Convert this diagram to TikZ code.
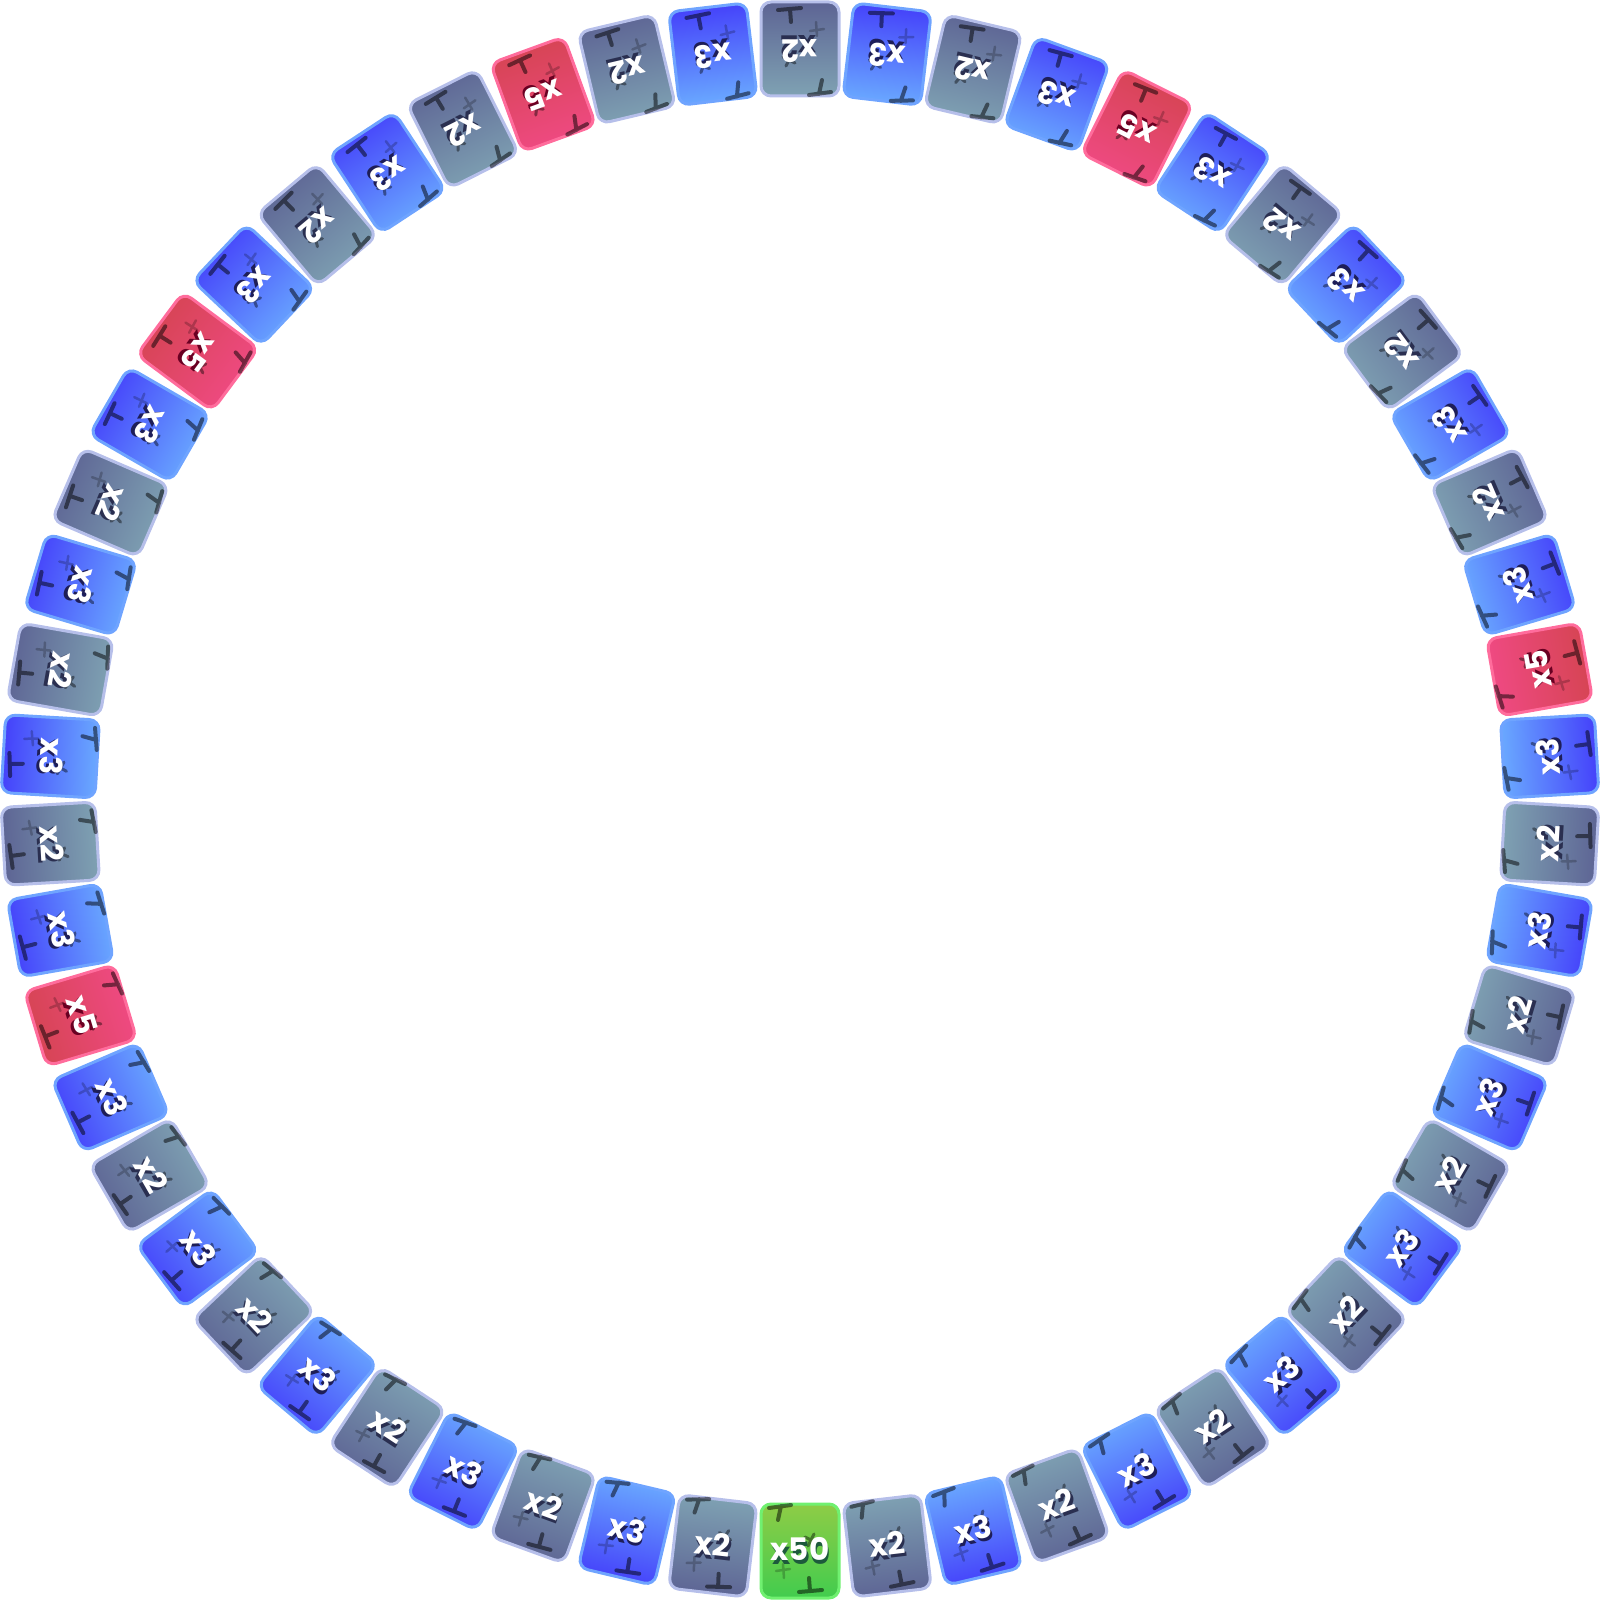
\documentclass[tikz,border=0pt]{standalone}
\usepackage{fontspec}
\newfontfamily\tilefont{Poppins}
\definecolor{gTwoIn}{HTML}{7FA2B3}
\definecolor{gTwoOut}{HTML}{5D6494}
\definecolor{bTwo}{HTML}{B6BFEA}
\definecolor{sTwo}{HTML}{2A2F50}
\definecolor{gThreeIn}{HTML}{6AAAFF}
\definecolor{gThreeOut}{HTML}{4440FA}
\definecolor{bThree}{HTML}{6FA4FF}
\definecolor{sThree}{HTML}{1E1E58}
\definecolor{gFiveIn}{HTML}{F04A84}
\definecolor{gFiveOut}{HTML}{D54452}
\definecolor{bFive}{HTML}{FF6C9C}
\definecolor{sFive}{HTML}{6A0022}
\definecolor{gFiftyIn}{HTML}{8ECC46}
\definecolor{gFiftyOut}{HTML}{42CC4E}
\definecolor{bFifty}{HTML}{70F070}
\definecolor{sFifty}{HTML}{1D5A3C}
\colorlet{sh2}{sTwo}\colorlet{sh3}{sThree}\colorlet{sh5}{sFive}\colorlet{sh50}{sFifty}
\newcommand\shadowed[2]{\makebox[0pt][l]{\hspace{1.5pt}\raisebox{-3.5pt}{\textcolor{#1}{#2}}}#2}
\tikzset{
  tilebox/.style={rounded corners=10pt, line width=3pt, minimum width=78pt,
    minimum height=94pt, inner sep=0pt, transform shape},
  tile2/.style={top color=gTwoIn, bottom color=gTwoOut, draw=bTwo},
  tile3/.style={top color=gThreeIn, bottom color=gThreeOut, draw=bThree},
  tile5/.style={top color=gFiveIn, bottom color=gFiveOut, draw=bFive},
  tile50/.style={top color=gFiftyIn, bottom color=gFiftyOut, draw=bFifty},
  tiletext/.style={font=\tilefont\bfseries\fontsize{31}{31}\selectfont, text=white, inner sep=0pt, transform shape},
  mk/.style={draw=black, draw opacity=0.5, line width=4pt, line cap=round},
  mkfaint/.style={draw=black, draw opacity=0.22, line width=2.5pt, line cap=round}
}
\begin{document}
\begin{tikzpicture}[x=1pt,y=1pt]
\useasboundingbox (-800,-800) rectangle (800,800);
\foreach \lab [count=\k from 0] in {50,2,3,2,3,2,3,2,3,2,3,5,3,2,3,2,3,2,3,5,3,2,3,2,5,2,3,2,3,2,3,5,3,2,3,2,3,2,3,5,3,2,3,2,3,2,3,2,3,2,3,2,3,2}{
  \pgfmathsetmacro{\ang}{-90-(360/54)*\k}
  \pgfmathsetmacro{\sa}{\ang+90}
  \begin{scope}[shift={(\ang:751)}, rotate=\ang+90, transform shape]
    \node[tilebox, tile\lab, shading angle=\sa] (t\k) at (0,0) {};
    \draw[mk] (-31,43) -- (-9,46) (-19,45) -- (-22,31);
    \draw[mk, draw opacity=0.42, line width=3pt] (5,14) -- (17,8) (8,5) -- (14,17);
    \draw[mkfaint] (-24,-20) -- (-10,-18) (-17,-13) -- (-16,-27);
    \draw[mk] (-1,-41) -- (22,-39) (9,-27) -- (10,-40);
    \node[tiletext] (l\k) at (0,0) {\shadowed{sh\lab}{x\lab}};
  \end{scope}
}
\end{tikzpicture}
\end{document}
